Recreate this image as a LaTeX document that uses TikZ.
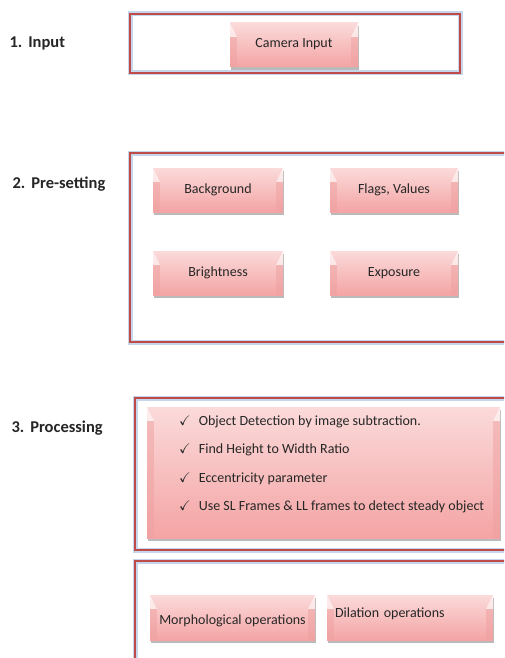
\documentclass[tikz,border=0pt]{standalone}
\usepackage{fontspec}
\usepackage{amssymb}
\setmainfont{Carlito}
\usetikzlibrary{shadows}
\definecolor{framered}{HTML}{BE4B48}
\definecolor{frameglow}{HTML}{C6D6EA}
\definecolor{pinktop}{HTML}{FBDADA}
\definecolor{pinkbot}{HTML}{F4A4A4}
\definecolor{pinkside}{HTML}{EFA0A0}
\tikzset{
  steplabel/.style = {anchor = west, font = \fontsize{16.5}{18}\selectfont\bfseries, text = black!85},
  stageframe/.style = {draw = framered, line width = 1.5pt, preaction = {draw = frameglow, line width = 5pt}},
  bevelbox/.style = {rectangle, top color = pinktop, bottom color = pinkbot, minimum height = 44pt,
    font = \fontsize{14}{16}\selectfont, text = black!85, inner sep = 0pt,
    drop shadow = {shadow xshift = 1pt, shadow yshift = -3pt, fill = black!45, opacity = .6},
    path picture = {
      \fill[white, opacity = .55] (path picture bounding box.north west) -- ++(7pt, -14pt) -- ++(-7pt, 0pt) -- cycle;
      \fill[pinkside, opacity = .5] (path picture bounding box.north west) ++(0pt, -14pt) -- ++(7pt, 0pt) |- (path picture bounding box.south west) -- cycle;
      \fill[white, opacity = .55] (path picture bounding box.north east) -- ++(-7pt, -14pt) -- ++(7pt, 0pt) -- cycle;
      \fill[pinkside, opacity = .5] (path picture bounding box.north east) ++(0pt, -14pt) -- ++(-7pt, 0pt) |- (path picture bounding box.south east) -- cycle;
    }},
  listtext/.style = {anchor = west, align = left, font = \fontsize{14}{28.5}\selectfont, text = black!85, inner sep = 0pt}
}
\begin{document}
\begin{tikzpicture}[x = 1pt, y = -1pt]
  \clip (0, 0) rectangle (504, 658);
  \fill[white] (0, 0) rectangle (504, 658);

  % step labels
  \node[steplabel] (lbl1) at (6, 43) {1.\hspace{6pt}Input};
  \node[steplabel] (lbl2) at (9, 184) {2.\hspace{6pt}Pre-setting};
  \node[steplabel] (lbl3) at (8, 428) {3.\hspace{6pt}Processing};

  % 1. input
  \draw[stageframe] (130, 14) rectangle (460, 73);
  \node[bevelbox, minimum width = 128pt, text height = 11pt, text depth = 5pt] (camera) at (294, 45) {Camera Input};

  % 2. pre-setting
  \draw[stageframe] (130, 153) rectangle (530, 342);
  \node[bevelbox, minimum width = 130pt] (backgr) at (218, 190) {Background};
  \node[bevelbox, minimum width = 128pt] (flags) at (394, 190) {Flags, Values};
  \node[bevelbox, minimum width = 130pt] (bright) at (218, 273) {Brightness};
  \node[bevelbox, minimum width = 128pt] (expo) at (394, 273) {Exposure};

  % 3. processing
  \draw[stageframe] (135, 398) rectangle (530, 550);
  \node[bevelbox, minimum width = 353pt, minimum height = 131pt] (detect) at (323.5, 472.5) {};
  \node[listtext] (checks) at (179, 464.5)
    {\checkmark\hspace{8pt}Object Detection by image subtraction.\\
     \checkmark\hspace{8pt}Find Height to Width Ratio\\
     \checkmark\hspace{8pt}Eccentricity parameter\\
     \checkmark\hspace{8pt}Use SL Frames \& LL frames to detect steady object};

  \draw[stageframe] (135, 561) rectangle (530, 690);
  \node[bevelbox, minimum width = 165pt, minimum height = 45pt, text height = 16pt, text depth = 3pt] (morph) at (232.5, 617.5) {Morphological operations};
  \node[bevelbox, minimum width = 166pt, minimum height = 45pt, text width = 150pt, align = left,
        text height = 9pt, text depth = 10pt] (dilat) at (410, 617.5) {Dilation operations};
\end{tikzpicture}
\end{document}
